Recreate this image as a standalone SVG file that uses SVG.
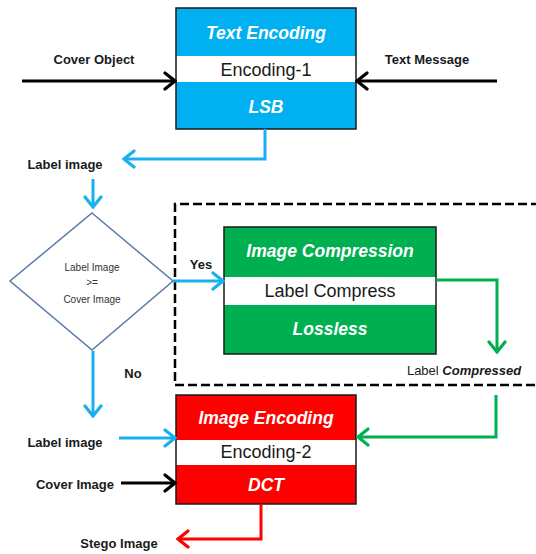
<svg xmlns="http://www.w3.org/2000/svg" width="536" height="554" viewBox="0 0 536 554">
  <style>
    .lbl { font-family: "Liberation Sans", Arial, sans-serif; font-size: 13px; font-weight: bold; fill: #1a1a1a; text-anchor: middle; }
    .title { font-family: "Liberation Sans", Arial, sans-serif; font-size: 17.5px; font-weight: bold; font-style: italic; fill: #ffffff; text-anchor: middle; }
    .mid { font-family: "Liberation Sans", Arial, sans-serif; font-size: 18px; fill: #1a1a1a; text-anchor: middle; }
    .small { font-family: "Liberation Sans", Arial, sans-serif; font-size: 10px; fill: #333333; text-anchor: middle; }
    .frame { fill: none; stroke: #1a1a1a; stroke-width: 1.5; }
    .band { fill: #ffffff; }
    .wire { fill: none; stroke-width: 3; stroke-linejoin: miter; }
    .k { stroke: #000000; }
    .b { stroke: #1AAFEF; }
    .g { stroke: #00B050; }
    .r { stroke: #FF0000; }
  </style>
  <defs>
    <marker id="ah-k" markerUnits="userSpaceOnUse" viewBox="-12 -10 14 20" refX="0" refY="0" markerWidth="14" markerHeight="20" orient="auto">
      <path d="M-10,-8 L0,0 L-10,8" fill="none" stroke="#000000" stroke-width="3.2" stroke-linecap="round" stroke-linejoin="miter"/>
    </marker>
    <marker id="ah-b" markerUnits="userSpaceOnUse" viewBox="-12 -10 14 20" refX="0" refY="0" markerWidth="14" markerHeight="20" orient="auto">
      <path d="M-10,-8 L0,0 L-10,8" fill="none" stroke="#1AAFEF" stroke-width="3.2" stroke-linecap="round" stroke-linejoin="miter"/>
    </marker>
    <marker id="ah-g" markerUnits="userSpaceOnUse" viewBox="-12 -10 14 20" refX="0" refY="0" markerWidth="14" markerHeight="20" orient="auto">
      <path d="M-10,-8 L0,0 L-10,8" fill="none" stroke="#00B050" stroke-width="3.2" stroke-linecap="round" stroke-linejoin="miter"/>
    </marker>
    <marker id="ah-r" markerUnits="userSpaceOnUse" viewBox="-12 -10 14 20" refX="0" refY="0" markerWidth="14" markerHeight="20" orient="auto">
      <path d="M-10,-8 L0,0 L-10,8" fill="none" stroke="#FF0000" stroke-width="3.2" stroke-linecap="round" stroke-linejoin="miter"/>
    </marker>
  </defs>

  <rect width="536" height="554" fill="#ffffff"/>

  <!-- dashed region around the compression stage (open on the right) -->
  <g id="compression-region">
    <path d="M540,204 L175,204 L175,385 L540,385" fill="none" stroke="#000000" stroke-width="2.5" stroke-dasharray="9 4"/>
  </g>

  <!-- text encoding stage -->
  <g id="text-encoding">
    <rect x="176" y="8" width="180" height="121" fill="#00B0F0"/>
    <rect class="band" x="176" y="56" width="180" height="26"/>
    <rect class="frame" x="176" y="8" width="180" height="121"/>
    <text class="title" x="266" y="39">Text Encoding</text>
    <text class="mid" x="266" y="76">Encoding-1</text>
    <text class="title" x="266" y="113">LSB</text>
  </g>

  <!-- size decision -->
  <g id="decision">
    <polygon points="92,213 173,281 92,350 10,281" fill="#ffffff" stroke="#5B7BA6" stroke-width="1.5"/>
    <text class="small" x="92" y="270.5">Label Image</text>
    <text class="small" x="92" y="285.5">&gt;=</text>
    <text class="small" x="92" y="302.5">Cover Image</text>
  </g>

  <!-- image compression stage -->
  <g id="image-compression">
    <rect x="224" y="227" width="212" height="127" fill="#00B050"/>
    <rect class="band" x="224" y="277" width="212" height="28"/>
    <rect class="frame" x="224" y="227" width="212" height="127"/>
    <text class="title" x="330" y="257">Image Compression</text>
    <text class="mid" x="330" y="297">Label Compress</text>
    <text class="title" x="330" y="335">Lossless</text>
  </g>

  <!-- image encoding stage -->
  <g id="image-encoding">
    <rect x="176" y="395" width="180" height="109" fill="#FF0000"/>
    <rect class="band" x="176" y="440" width="180" height="25"/>
    <rect class="frame" x="176" y="395" width="180" height="109"/>
    <text class="title" x="266" y="424">Image Encoding</text>
    <text class="mid" x="266" y="458">Encoding-2</text>
    <text class="title" x="266" y="491">DCT</text>
  </g>

  <!-- connectors -->
  <g id="connectors">
    <path class="wire k" d="M22,81 L175,81" marker-end="url(#ah-k)"/>
    <path class="wire k" d="M497,81 L357,81" marker-end="url(#ah-k)"/>
    <path class="wire b" d="M265,129 L265,159 L124,159" marker-end="url(#ah-b)"/>
    <path class="wire b" d="M93,179 L93,207" marker-end="url(#ah-b)"/>
    <path class="wire b" d="M173,281 L223,281" marker-end="url(#ah-b)"/>
    <path class="wire g" d="M436,280 L497,280 L497,352" marker-end="url(#ah-g)"/>
    <path class="wire b" d="M93,351 L93,416" marker-end="url(#ah-b)"/>
    <path class="wire b" d="M119,438 L175,438" marker-end="url(#ah-b)"/>
    <path class="wire g" d="M496,395 L496,437 L358,437" marker-end="url(#ah-g)"/>
    <path class="wire k" d="M121,483 L175,483" marker-end="url(#ah-k)"/>
    <path class="wire r" d="M261,504 L261,539 L178,539" marker-end="url(#ah-r)"/>
  </g>

  <!-- connector labels -->
  <g id="labels">
    <text class="lbl" x="94" y="63.5">Cover Object</text>
    <text class="lbl" x="427" y="63.5">Text Message</text>
    <text class="lbl" x="65" y="168.5">Label image</text>
    <text class="lbl" x="201" y="268.5">Yes</text>
    <text class="lbl" x="133" y="377.5">No</text>
    <text class="lbl" x="464" y="374.5"><tspan font-weight="normal">Label </tspan><tspan font-style="italic">Compressed</tspan></text>
    <text class="lbl" x="65" y="446.5">Label image</text>
    <text class="lbl" x="75" y="488.5">Cover Image</text>
    <text class="lbl" x="119" y="547.5">Stego Image</text>
  </g>
</svg>
